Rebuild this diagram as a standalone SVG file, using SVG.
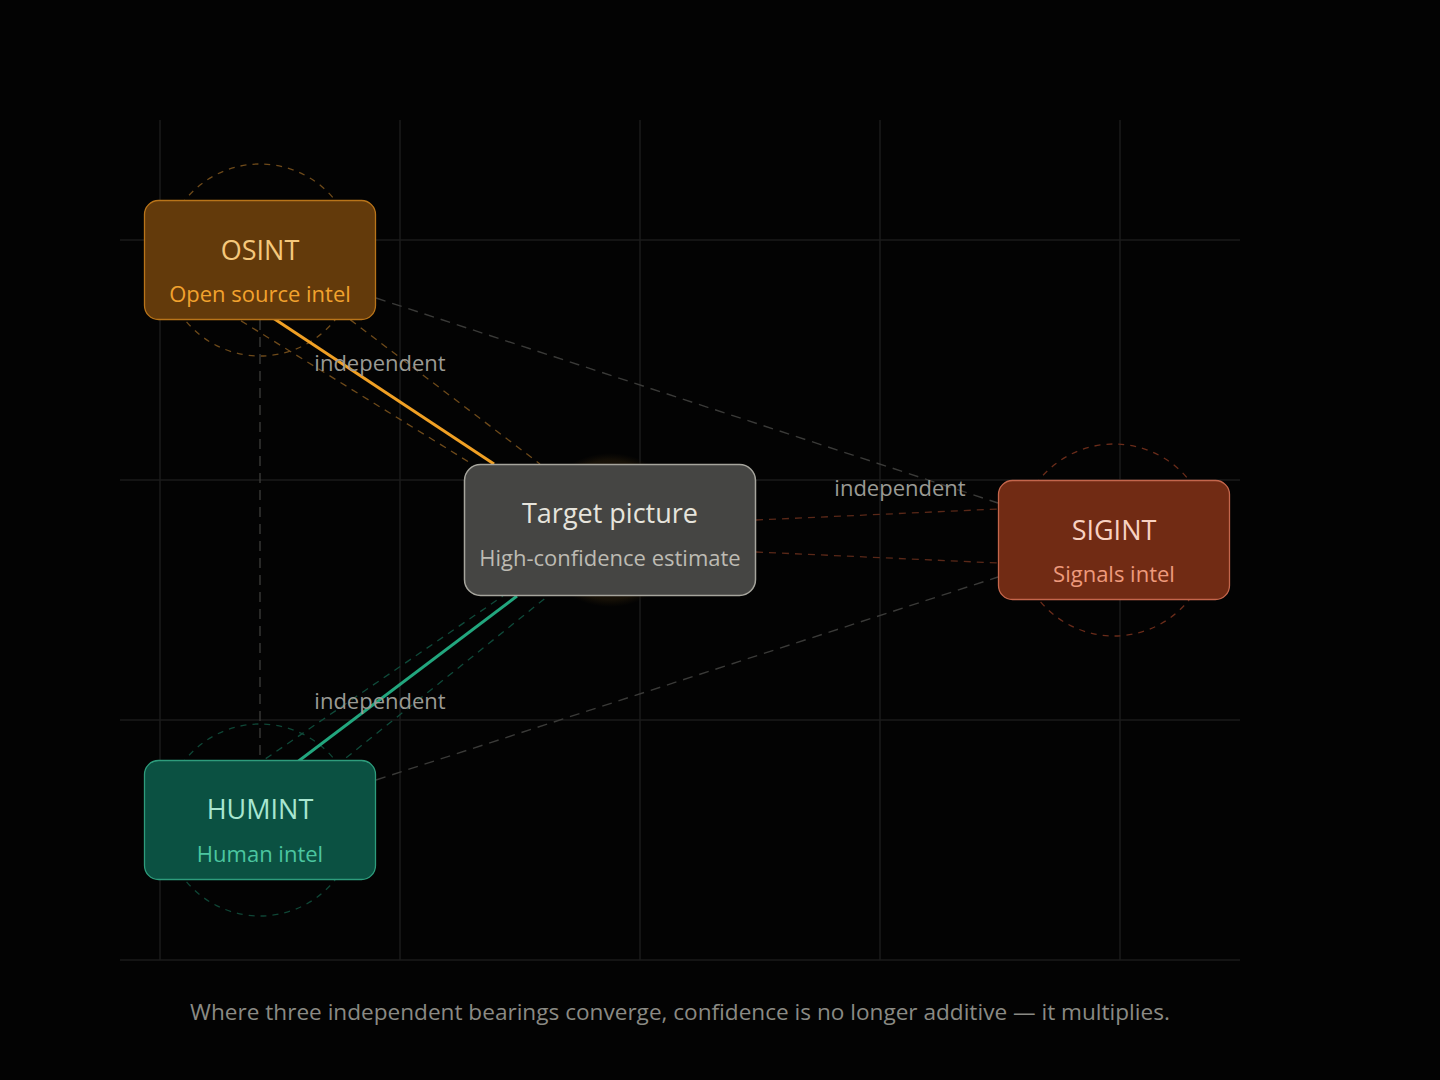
<svg xmlns="http://www.w3.org/2000/svg" width="1440" height="1080" viewBox="0 0 1440 1080">
<defs>
<radialGradient id="glow" cx="0.5" cy="0.5" r="0.5">
<stop offset="0" stop-color="#1d1508" stop-opacity="1"/>
<stop offset="0.9" stop-color="#171107" stop-opacity="1"/>
<stop offset="1" stop-color="#120d05" stop-opacity="0"/>
</radialGradient>
<style>
.grid{stroke:#1b1b1b;stroke-width:1.5;fill:none}
.ring{fill:none;stroke-width:1.3;stroke-dasharray:6 6}
.gray{stroke:#3a3a38;stroke-width:1.4;stroke-dasharray:10 7;fill:none}
.wedge{stroke-width:1.3;stroke-dasharray:7 6;fill:none}
.t{font-family:"Open Sans","Noto Sans","DejaVu Sans",sans-serif;text-anchor:middle}
.title{font-size:27px}
.sub{font-size:22px}
.lbl{font-size:22px;fill:#9a9a94}
</style>
</defs>
<rect width="1440" height="1080" fill="#030303"/>
<g id="grid">
<line class="grid" x1="160" y1="120" x2="160" y2="960"/>
<line class="grid" x1="400" y1="120" x2="400" y2="960"/>
<line class="grid" x1="640" y1="120" x2="640" y2="960"/>
<line class="grid" x1="880" y1="120" x2="880" y2="960"/>
<line class="grid" x1="1120" y1="120" x2="1120" y2="960"/>
<line class="grid" x1="120" y1="240" x2="1240" y2="240"/>
<line class="grid" x1="120" y1="480" x2="1240" y2="480"/>
<line class="grid" x1="120" y1="720" x2="1240" y2="720"/>
<line class="grid" x1="120" y1="960" x2="1240" y2="960"/>
</g>
<circle cx="610" cy="530" r="77" fill="url(#glow)"/>
<g id="rings">
<circle class="ring" cx="260" cy="260" r="96" stroke="#6e4a1a"/>
<circle class="ring" cx="1114" cy="540" r="96" stroke="#6a2c1a"/>
<circle class="ring" cx="260" cy="820" r="96" stroke="#0f4636"/>
</g>
<g id="connectors">
<line class="gray" x1="260" y1="320" x2="260" y2="760"/>
<line class="gray" x1="376" y1="298" x2="998" y2="503"/>
<line class="gray" x1="376" y1="780" x2="998" y2="577"/>
<line class="wedge" stroke="#6e4a1a" x1="230" y1="314" x2="472" y2="464"/>
<line class="wedge" stroke="#6e4a1a" x1="340" y1="312" x2="540" y2="464"/>
<line class="wedge" stroke="#0f4a3a" x1="255" y1="766" x2="503" y2="596"/>
<line class="wedge" stroke="#0f4a3a" x1="336" y1="766" x2="548" y2="596"/>
<line class="wedge" stroke="#5a2818" x1="756" y1="520" x2="998" y2="509"/>
<line class="wedge" stroke="#5a2818" x1="756" y1="552" x2="998" y2="563"/>
<line x1="270" y1="316" x2="494" y2="464" stroke="#f0a024" stroke-width="3"/>
<line x1="296" y1="763" x2="517" y2="596" stroke="#22a67e" stroke-width="3"/>
</g>
<g id="osint">
<rect x="144.5" y="200.5" width="231" height="119" rx="14" fill="#633a0b" stroke="#b8741a" stroke-width="1.3"/>
<text class="t title" x="260" y="260" fill="#f5c87c">OSINT</text>
<text class="t sub" x="260" y="302" fill="#f2a22e">Open source intel</text>
</g>
<g id="target">
<rect x="464.5" y="464.5" width="291" height="131" rx="16" fill="#454543" stroke="#a6a59d" stroke-width="1.5"/>
<text class="t title" x="610" y="523" fill="#e6e4dc">Target picture</text>
<text class="t sub" x="610" y="566" font-size="22.4" fill="#bdbbb3">High-confidence estimate</text>
</g>
<g id="sigint">
<rect x="998.5" y="480.5" width="231" height="119" rx="14" fill="#712b14" stroke="#c4664c" stroke-width="1.3"/>
<text class="t title" x="1114" y="540" fill="#f8d2c2">SIGINT</text>
<text class="t sub" x="1114" y="582" fill="#ee9a7c">Signals intel</text>
</g>
<g id="humint">
<rect x="144.5" y="760.5" width="231" height="119" rx="14" fill="#0b5142" stroke="#2e9c7c" stroke-width="1.3"/>
<text class="t title" x="260" y="819" fill="#a8e6d0">HUMINT</text>
<text class="t sub" x="260" y="862" fill="#4cc6a0">Human intel</text>
</g>
<g id="labels">
<text class="t lbl" x="380" y="371">independent</text>
<text class="t lbl" x="380" y="709">independent</text>
<text class="t lbl" x="900" y="496">independent</text>
</g>
<text class="t" x="680" y="1020" font-size="22.6" fill="#8a8a84">Where three independent bearings converge, confidence is no longer additive — it multiplies.</text>
</svg>
